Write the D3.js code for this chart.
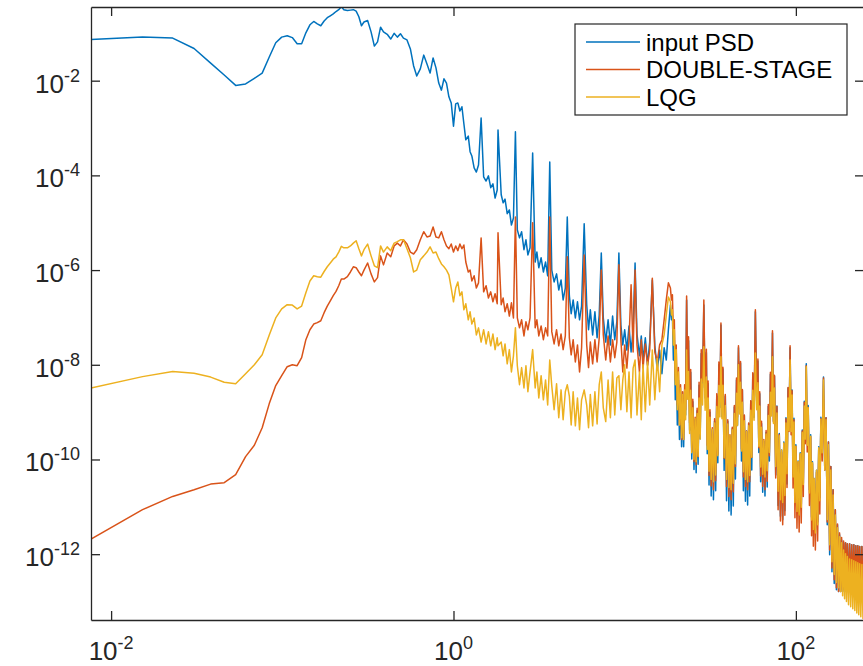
<!DOCTYPE html>
<html>
<head>
<meta charset="utf-8">
<script src="https://cdn.jsdelivr.net/npm/d3@7"></script>
<style>
  body { margin: 0; background: #fff; }
  svg { display: block; font-family: "Liberation Sans", Arial, Helvetica, sans-serif; }
</style>
</head>
<body>
<svg id="chart"></svg>
<script>
// frequency grid (Hz)
const freq = [
  // lowest FFT bins
  0.00763, 0.01526, 0.02289, 0.03052, 0.03815, 0.04578, 0.05341, 0.06104, 0.06866, 0.07629,
  0.08392, 0.09155, 0.09918, 0.1068, 0.1144, 0.1221, 0.1297, 0.1373, 0.1450, 0.1526,
  0.1602, 0.1678, 0.1755, 0.1831, 0.1907, 0.1984, 0.2060, 0.2136, 0.2213, 0.2289,
  0.24, 0.25, 0.26, 0.27, 0.28, 0.29, 0.30, 0.315, 0.33, 0.345, 0.36, 0.375, 0.39, 0.41, 0.43,
  0.45, 0.47, 0.49, 0.51, 0.535, 0.56, 0.585, 0.61, 0.64, 0.67, 0.70, 0.73, 0.76, 0.79, 0.82,
  0.85, 0.88, 0.91, 0.94, 0.97,
  // 1 - 10 Hz
  1.00, 1.03, 1.06, 1.09, 1.12, 1.15, 1.18, 1.22, 1.25, 1.28, 1.32, 1.36, 1.40, 1.45, 1.50, 1.55,
  1.60, 1.65, 1.70, 1.75, 1.80, 1.82, 1.90, 1.95, 2.00, 2.06, 2.12, 2.18, 2.24, 2.30, 2.36, 2.43,
  2.50, 2.58, 2.65, 2.72, 2.80, 2.90, 3.00, 3.07, 3.15, 3.25, 3.35, 3.45, 3.55, 3.65, 3.75, 3.87,
  4.00, 4.12, 4.25, 4.37, 4.50, 4.62, 4.75, 4.87, 5.00, 5.15, 5.30, 5.45, 5.60, 5.80, 6.00, 6.15,
  6.30, 6.50, 6.70, 6.90, 7.10, 7.30, 7.50, 7.75, 8.00, 8.25, 8.50, 8.75, 9.00, 9.25, 9.50, 9.75,
  // 10 - 18.5 Hz
  10.0, 10.3, 10.6, 10.9, 11.2, 11.5, 11.8, 12.2, 12.5, 12.8, 13.2, 13.6, 14.0, 14.5, 15.0, 15.5,
  16.0, 16.5, 17.0, 17.5, 18.0, 18.5,
  // dense part, one row per harmonic gap
  18.75, 19.0, 19.25, 19.5, 19.75, 20.0, 20.3, 20.6, 20.9, 21.2, 21.5, 21.8, 22.1, 22.4, 22.7, 23.0,
  23.3, 23.6, 23.95, 24.3, 24.65, 25.0, 25.4, 25.8, 26.15, 26.5, 26.85, 27.2, 27.6, 28.0, 28.5, 29.0,
  29.5, 30.0, 30.35, 30.7, 31.1, 31.5, 32.0, 32.5, 33.0, 33.5, 34.0, 34.5, 35.0, 35.5, 36.0, 36.5,
  37.0, 37.5, 38.1, 38.7, 39.35, 40.0, 40.6, 41.2, 41.85, 42.5, 43.1, 43.7, 44.35, 45.0, 45.6, 46.2,
  46.85, 47.5, 48.1, 48.7, 49.35, 50.0, 50.75, 51.5, 52.25, 53.0, 53.75, 54.5, 55.25, 56.0, 57.0, 58.0,
  59.0, 60.0, 60.75, 61.5, 62.25, 63.0, 64.0, 65.0, 66.0, 67.0, 68.0, 69.0, 70.0, 71.0, 72.0, 73.0,
  74.0, 75.0, 76.25, 77.5, 78.75, 80.0, 81.25, 82.5, 83.75, 85.0, 86.25, 87.5, 88.75, 90.0, 91.25, 92.5,
  93.75, 95.0, 96.25, 97.5, 98.75, 100, 101.5, 103, 104.5, 106, 107.5, 109, 110.5, 112, 113.5, 115,
  116.5, 118, 120, 122, 123.5, 125, 126.5, 128, 130, 132, 134, 136, 138, 140, 142.5, 145,
  // roll-off up to Nyquist
  147.5, 150, 152.5, 155, 157.5, 160, 162.5, 165, 167.5, 170, 172.5, 175, 177.5, 180, 182.5, 185,
  187.5, 190, 192.5, 195, 197.5, 200, 203, 206, 209, 212, 215, 218, 221, 224, 227, 230,
  233, 236, 239.5, 243, 246.5, 250
];

// PSD values in dB (10*log10), same order as freq
const inputPSD = [
  -11.3, -10.8, -11.0, -13.2, -16.3, -18.8, -21.0, -20.7, -19.5, -18.4,
  -15.0, -12.0, -10.8, -10.5, -10.9, -12.2, -12.2, -9.9, -8.2, -7.5,
  -8.0, -8.4, -7.4, -6.7, -6.3, -5.9, -5.4, -5.0, -4.4, -5.0,
  -5.2, -5.1, -5.0, -5.3, -6.5, -8.4, -7.6, -7.3, -9.7, -12.7, -11.8, -8.7, -9.7, -10.2, -11.2,
  -10.0, -10.8, -10.1, -11.0, -11.4, -13.3, -16.9, -19.0, -17.5, -14.6, -16.5, -18.4, -15.2, -17.3, -20.5,
  -22.0, -19.6, -20.5, -23.4, -24.7,
  -29.6, -24.9, -24.7, -26.4, -25.5, -29.1, -32.5, -31.7, -35.0, -35.9,
  -38.4, -39.3, -37.8, -27.9, -40.3, -41.2, -40.1, -42.6, -41.8, -44.8,
  -43.1, -30.4, -44.1, -45.8, -45.0, -48.1, -47.3, -50.5, -49.0, -30.8,
  -51.5, -53.2, -51.9, -55.7, -53.6, -56.8, -55.3, -35.3, -58.3, -56.2,
  -59.5, -57.4, -60.4, -58.3, -61.2, -37.2, -60.0, -62.5, -60.8, -64.2,
  -62.1, -66.3, -63.8, -48.8, -65.4, -69.2, -66.3, -70.1, -66.7, -70.5,
  -67.6, -50.2, -67.3, -72.6, -68.4, -73.7, -68.8, -74.3, -69.5, -56.4,
  -70.1, -75.2, -70.5, -75.8, -69.7, -74.7, -70.9, -56.4, -71.6, -75.8,
  -72.6, -76.9, -71.8, -77.3, -72.6, -58.5, -73.5, -78.1, -73.9, -79.0,
  -74.3, -80.0, -75.2, -62.1, -76.0, -81.1, -76.9, -81.9, -76.4, -79.0,
  -72.6, -67.4,
  -70.5, -69.5, -79.0, -74.7, -87.4, -79.0, -92.7, -83.2, -95.8, -85.7, -97.3, -87.0, -97.3, -85.7, -90.6, -66.3,
  -83.0, -74.9, -93.8, -81.6, -99.9, -87.8, -102.1, -91.6, -102.8, -89.7, -101.0, -84.3, -95.6, -77.6, -84.8, -67.4,
  -87.0, -77.4, -98.8, -84.0, -105.4, -90.0, -107.7, -93.7, -108.5, -91.9, -106.6, -86.6, -100.7, -80.0, -89.0, -71.6,
  -91.0, -80.9, -102.3, -86.6, -108.7, -91.9, -110.9, -95.1, -111.7, -93.5, -109.8, -88.9, -104.1, -83.2, -92.8, -76.4,
  -89.2, -79.6, -100.3, -85.4, -106.6, -90.7, -108.8, -94.0, -109.6, -92.4, -107.7, -87.7, -102.2, -81.9, -91.1, -68.8,
  -87.5, -79.2, -98.5, -86.1, -104.7, -92.4, -106.9, -96.2, -107.7, -94.3, -105.8, -88.8, -100.3, -82.0, -89.4, -73.3,
  -91.9, -82.4, -103.3, -88.7, -109.7, -94.5, -112.0, -98.0, -112.7, -96.3, -110.8, -91.2, -105.2, -84.9, -93.8, -76.4,
  -93.2, -85.3, -103.3, -91.3, -109.0, -96.9, -111.0, -100.3, -111.7, -98.6, -110.0, -93.8, -105.0, -87.7, -94.9, -79.8,
  -96.3, -88.6, -106.4, -94.8, -112.2, -100.5, -114.2, -104.0, -114.8, -102.3, -113.2, -97.3, -108.1, -91.1, -98.0, -82.6,
  -102.2, -91.2, -113.8, -96.3, -120.1, -101.5, -123.7, -106.4, -126.2, -110.6, -127.5, -113.8, -127.9, -115.9, -127.9, -117.0,
  -127.9, -117.6, -127.9, -117.6, -127.9, -117.8, -128.1, -117.8, -128.1, -118.0, -128.4, -118.0, -128.4, -118.2, -128.6, -118.2,
  -128.6, -118.4, -128.8, -118.4, -128.8, -118.6
];

const doubleStage = [
  -116.8, -110.6, -107.8, -106.4, -105.2, -104.9, -103.2, -99.4, -97.0, -93.3,
  -88.2, -84.4, -82.3, -80.4, -80.0, -80.2, -78.5, -74.7, -72.6, -71.4,
  -71.1, -70.7, -69.0, -67.6, -66.5, -65.4, -64.5, -63.3, -61.9, -61.9,
  -61.4, -60.4, -59.3, -59.5, -60.4, -61.2, -60.0, -58.5, -60.8, -62.5, -61.6, -57.0, -58.9, -56.4, -57.2,
  -54.9, -54.3, -54.9, -53.6, -54.5, -56.2, -56.6, -55.7, -53.6, -51.9, -53.0, -52.8, -50.9, -53.0, -53.2,
  -51.9, -53.6, -54.9, -55.5, -54.5,
  -56.2, -54.9, -55.9, -54.5, -55.5, -54.7, -58.3, -60.4, -60.0, -62.3,
  -61.2, -63.8, -62.7, -53.2, -64.6, -63.3, -65.9, -64.6, -66.7, -65.0,
  -67.1, -52.1, -67.3, -65.9, -68.8, -67.1, -69.7, -66.9, -70.1, -48.8,
  -70.1, -72.2, -70.5, -73.9, -70.9, -72.6, -70.1, -50.0, -72.2, -70.5,
  -73.9, -71.8, -74.7, -72.2, -73.9, -48.8, -73.0, -75.6, -72.6, -76.0,
  -73.5, -76.8, -73.9, -57.2, -74.3, -77.9, -74.7, -79.4, -75.8, -81.5,
  -76.4, -56.8, -75.8, -80.6, -75.2, -79.8, -74.7, -79.4, -74.3, -60.0,
  -73.7, -79.0, -73.9, -79.4, -74.7, -78.5, -75.2, -58.9, -74.7, -81.5,
  -75.8, -80.7, -74.7, -63.1, -77.3, -60.0, -75.8, -81.5, -74.7, -80.7,
  -75.6, -80.2, -76.9, -61.7, -77.3, -79.4, -75.8, -74.7, -70.5, -66.3,
  -62.7, -63.8,
  -66.3, -65.2, -73.7, -70.5, -83.2, -75.8, -88.5, -80.6, -92.7, -84.2, -95.8, -85.7, -95.8, -84.2, -89.5, -65.5,
  -81.7, -74.1, -92.3, -81.0, -98.3, -87.3, -100.4, -91.1, -101.1, -89.2, -99.4, -83.7, -94.1, -76.8, -83.5, -66.3,
  -85.7, -76.7, -97.0, -83.4, -103.4, -89.5, -105.6, -93.3, -106.4, -91.4, -104.5, -86.1, -98.9, -79.4, -87.6, -71.2,
  -89.3, -80.5, -99.8, -86.3, -105.7, -91.6, -107.8, -94.8, -108.5, -93.2, -106.8, -88.6, -101.5, -82.8, -91.0, -76.0,
  -87.6, -79.3, -97.8, -85.2, -103.7, -90.6, -105.7, -94.0, -106.4, -92.3, -104.7, -87.6, -99.6, -81.7, -89.3, -68.4,
  -86.7, -78.8, -97.5, -85.7, -103.5, -91.9, -105.7, -95.8, -106.4, -93.9, -104.6, -88.4, -99.2, -81.6, -88.5, -72.8,
  -92.1, -82.2, -103.9, -88.8, -110.6, -94.7, -113.0, -98.4, -113.8, -96.6, -111.8, -91.4, -105.9, -84.8, -94.1, -76.0,
  -94.8, -85.5, -106.0, -91.6, -112.3, -97.2, -114.5, -100.6, -115.3, -98.9, -113.4, -94.0, -107.8, -87.9, -96.7, -80.2,
  -98.4, -89.0, -109.7, -95.2, -116.1, -100.9, -118.3, -104.4, -119.1, -102.7, -117.2, -97.7, -111.5, -91.4, -100.3, -82.8,
  -102.2, -91.2, -113.2, -96.3, -119.1, -101.5, -122.9, -106.4, -125.4, -110.6, -127.1, -113.6, -127.9, -115.5, -127.9, -116.5,
  -127.5, -117.2, -127.5, -117.6, -127.7, -117.8, -127.7, -117.8, -127.9, -118.0, -127.9, -118.0, -128.1, -118.2, -128.4, -118.2,
  -128.6, -118.4, -128.8, -118.4, -129.0, -118.6
];

const lqg = [
  -84.9, -82.5, -81.4, -81.8, -82.6, -83.7, -84.0, -81.9, -80.0, -77.9,
  -73.7, -70.1, -68.2, -67.3, -67.4, -68.2, -67.6, -64.8, -62.3, -61.2,
  -61.4, -61.5, -60.3, -59.3, -58.5, -57.7, -57.2, -56.2, -55.0, -55.3,
  -55.3, -54.9, -54.3, -53.8, -55.5, -57.0, -55.7, -54.5, -57.0, -59.1, -59.5, -54.9, -56.2, -55.1, -55.9,
  -54.3, -54.0, -53.6, -53.6, -55.5, -57.4, -60.4, -60.0, -57.8, -57.0, -56.2, -55.1, -56.4, -56.2, -57.6,
  -58.7, -59.3, -60.0, -61.0, -63.8,
  -66.7, -63.8, -62.5, -65.4, -64.6, -68.4, -67.1, -70.5, -68.8, -71.4,
  -70.1, -73.7, -72.2, -75.2, -72.6, -75.6, -73.0, -76.0, -73.5, -76.8,
  -74.3, -76.0, -75.2, -78.1, -75.6, -79.8, -76.8, -81.5, -78.1, -72.2,
  -80.2, -84.2, -80.6, -84.9, -80.2, -85.7, -81.5, -76.8, -84.9, -81.5,
  -87.0, -82.3, -87.4, -83.2, -88.5, -79.0, -84.4, -89.5, -84.0, -91.2,
  -85.3, -91.6, -85.7, -84.2, -86.6, -92.7, -85.7, -92.9, -87.0, -93.7,
  -87.4, -85.3, -88.5, -93.3, -86.3, -92.9, -85.7, -92.5, -84.2, -81.5,
  -89.1, -92.0, -83.2, -91.2, -81.5, -90.6, -82.8, -82.3, -89.5, -83.2,
  -80.0, -89.9, -81.5, -91.2, -80.7, -79.0, -90.6, -81.5, -91.6, -80.0,
  -89.9, -79.4, -88.5, -76.9, -87.4, -78.6, -85.7, -75.8, -73.7, -69.5,
  -65.7, -66.7,
  -69.5, -68.4, -75.8, -72.6, -84.2, -76.8, -89.5, -81.5, -92.7, -84.9, -95.4, -86.3, -95.8, -85.3, -91.6, -76.9,
  -87.3, -81.4, -94.5, -85.4, -98.6, -89.1, -100.0, -91.4, -100.5, -90.3, -99.3, -87.0, -95.7, -83.0, -88.5, -76.2,
  -89.6, -82.6, -97.9, -87.0, -102.5, -91.1, -104.2, -93.6, -104.7, -92.3, -103.3, -88.8, -99.2, -84.4, -91.0, -78.3,
  -91.4, -84.3, -99.6, -88.6, -104.2, -92.5, -105.9, -94.9, -106.4, -93.7, -105.0, -90.3, -100.9, -86.0, -92.8, -80.0,
  -90.4, -83.7, -98.2, -87.9, -102.6, -91.8, -104.2, -94.1, -104.7, -92.9, -103.4, -89.6, -99.5, -85.4, -91.7, -77.5,
  -89.5, -83.8, -97.2, -88.7, -101.6, -93.2, -103.1, -96.0, -103.7, -94.6, -102.4, -90.7, -98.5, -85.8, -90.8, -78.3,
  -92.4, -84.9, -101.5, -90.2, -106.7, -95.0, -108.5, -98.0, -109.1, -96.5, -107.6, -92.3, -103.0, -87.0, -93.9, -79.0,
  -94.1, -86.4, -103.7, -92.1, -109.1, -97.2, -111.0, -100.4, -111.7, -98.8, -110.1, -94.3, -105.3, -88.7, -95.7, -80.4,
  -97.0, -89.1, -107.1, -95.1, -112.8, -100.7, -114.8, -104.0, -115.5, -102.3, -113.8, -97.5, -108.7, -91.5, -98.6, -83.2,
  -102.2, -91.6, -112.7, -96.9, -118.0, -102.2, -121.6, -107.5, -124.3, -111.7, -126.0, -114.4, -127.1, -116.3, -127.9, -117.6,
  -128.8, -119.1, -129.4, -119.9, -130.0, -120.5, -130.7, -121.0, -131.1, -121.2, -131.5, -121.4, -131.9, -121.6, -132.4, -121.8,
  -132.8, -122.0, -133.2, -122.2, -133.6, -122.4
];

const seriesNames = ["input PSD", "DOUBLE-STAGE", "LQG"];
const seriesColors = ["#0072BD", "#D95319", "#EDB120"];
const xTickExp = [-2, 0, 2];
const yTickExp = [-12, -10, -8, -6, -4, -2];

const width = 863, height = 666;
const plot = { left: 91, top: 7, right: 864, bottom: 620 };
const axisColor = "#262626";

const svg = d3.select("#chart").attr("width", width).attr("height", height);

const x = d3.scaleLog()
  .domain([0.00763, 250])
  .range([plot.left, plot.right]);

const y = d3.scaleLog()
  .domain([Math.pow(10, -13.39), Math.pow(10, -0.444)])
  .range([plot.bottom, plot.top]);

svg.append("defs").append("clipPath").attr("id", "plot-clip")
  .append("rect")
  .attr("x", plot.left).attr("y", plot.top)
  .attr("width", plot.right - plot.left).attr("height", plot.bottom - plot.top);

// dB -> linear PSD
const series = [inputPSD, doubleStage, lqg].map((vals, i) => {
  const n = Math.min(vals.length, freq.length);
  return {
    name: seriesNames[i],
    color: seriesColors[i],
    points: freq.slice(0, n).map((f, j) => ({ f: f, p: Math.pow(10, vals[j] / 10) }))
  };
});

const line = d3.line()
  .x(d => x(d.f))
  .y(d => y(d.p));

svg.append("g")
  .attr("clip-path", "url(#plot-clip)")
  .selectAll("path")
  .data(series)
  .join("path")
  .attr("d", d => line(d.points))
  .attr("fill", "none")
  .attr("stroke", d => d.color)
  .attr("stroke-width", 1.5)
  .attr("stroke-linejoin", "round");

// axes, ticks point inward on all four sides
const xTickVals = xTickExp.map(e => Math.pow(10, e));
const yTickVals = yTickExp.map(e => Math.pow(10, e));

function styleAxis(g) {
  g.selectAll("path, line").attr("stroke", axisColor).attr("stroke-width", 1.3);
  g.selectAll("text").remove();
}

svg.append("g")
  .attr("transform", `translate(0,${plot.bottom})`)
  .call(d3.axisBottom(x).tickValues(xTickVals).tickSize(-9).tickSizeOuter(0))
  .call(styleAxis);

svg.append("g")
  .attr("transform", `translate(0,${plot.top})`)
  .call(d3.axisTop(x).tickValues(xTickVals).tickSize(-9).tickSizeOuter(0))
  .call(styleAxis);

svg.append("g")
  .attr("transform", `translate(${plot.left},0)`)
  .call(d3.axisLeft(y).tickValues(yTickVals).tickSize(-9).tickSizeOuter(0))
  .call(styleAxis);

svg.append("g")
  .attr("transform", `translate(${plot.right},0)`)
  .call(d3.axisRight(y).tickValues(yTickVals).tickSize(-9).tickSizeOuter(0))
  .call(styleAxis);

// 10^n tick labels
function powLabel(sel, e) {
  sel.append("tspan").text("10");
  sel.append("tspan").attr("dy", -11).attr("font-size", 18).text(e);
}

xTickExp.forEach(e => {
  svg.append("text")
    .attr("x", x(Math.pow(10, e)))
    .attr("y", 660)
    .attr("text-anchor", "middle")
    .attr("font-size", 26)
    .attr("fill", axisColor)
    .call(powLabel, e);
});

yTickExp.forEach(e => {
  svg.append("text")
    .attr("x", 80)
    .attr("y", y(Math.pow(10, e)) + 12)
    .attr("text-anchor", "end")
    .attr("font-size", 26)
    .attr("fill", axisColor)
    .call(powLabel, e);
});

// legend
const legend = svg.append("g");
legend.append("rect")
  .attr("x", 575).attr("y", 24)
  .attr("width", 272).attr("height", 91)
  .attr("fill", "#fff")
  .attr("stroke", axisColor)
  .attr("stroke-width", 1.2);

series.forEach((s, i) => {
  const ly = 42 + i * 27.5;
  legend.append("line")
    .attr("x1", 586).attr("x2", 640)
    .attr("y1", ly).attr("y2", ly)
    .attr("stroke", s.color)
    .attr("stroke-width", 1.5);
  legend.append("text")
    .attr("x", 646).attr("y", ly)
    .attr("dy", "0.36em")
    .attr("font-size", 24)
    .attr("fill", "#000")
    .text(s.name);
});
</script>
</body>
</html>
